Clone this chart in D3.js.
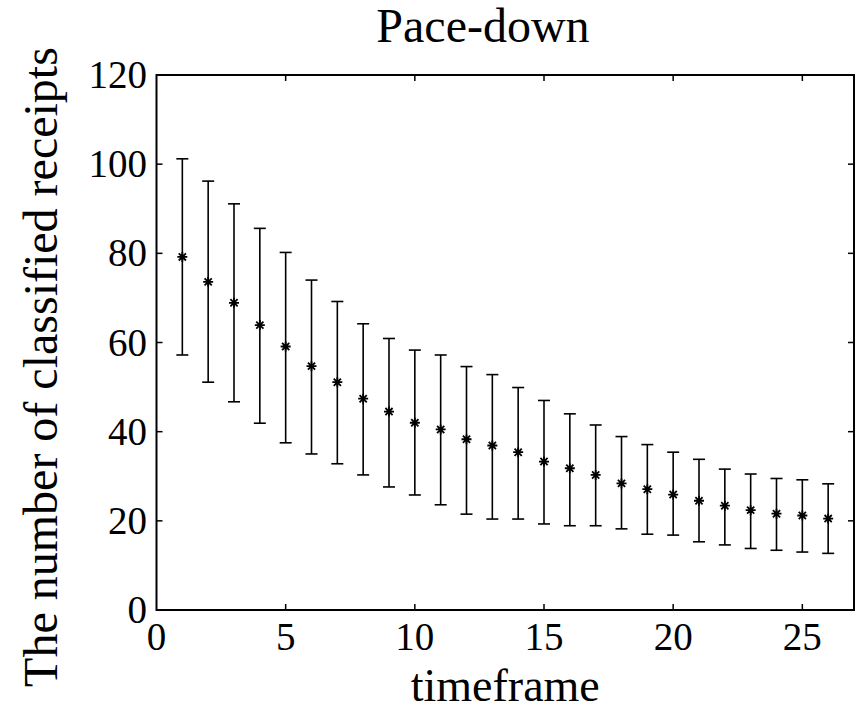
<!DOCTYPE html>
<html><head><meta charset="utf-8">
<script src="https://cdn.jsdelivr.net/npm/d3@7"></script>
<style>html,body{margin:0;padding:0;background:#fff;}svg{display:block;}</style>
</head><body>
<script>
const timeframe = [1,2,3,4,5,6,7,8,9,10,11,12,13,14,15,16,17,18,19,20,21,22,23,24,25,26];
const meanValues = [79.2,73.6,68.9,63.9,59.1,54.7,51.1,47.4,44.5,42.0,40.5,38.3,36.9,35.4,33.3,31.8,30.3,28.4,27.1,25.9,24.5,23.4,22.4,21.6,21.2,20.5];
const upperValues = [101.2,96.2,91.1,85.6,80.2,74.0,69.2,64.2,60.9,58.3,57.2,54.6,52.8,49.9,47.0,44.0,41.5,38.9,37.1,35.4,33.8,31.6,30.5,29.5,29.2,28.3];
const lowerValues = [57.2,51.1,46.7,41.9,37.5,35.0,32.8,30.3,27.6,25.8,23.6,21.5,20.4,20.4,19.3,18.9,18.9,18.2,17.0,16.8,15.3,14.6,13.8,13.4,13.0,12.7];
const xTicks = [0,5,10,15,20,25];
const yTicks = [0,20,40,60,80,100,120];
const titleText = "Pace-down";
const xLabel = "timeframe";
const yLabel = "The number of classified receipts";

const W = 857, H = 711;
const L = 156.5, R = 854, T = 75, B = 610;
const font = "'Liberation Serif','Times New Roman',serif";

const svg = d3.select("body").append("svg").attr("width", W).attr("height", H);
const x = d3.scaleLinear().domain([0,27]).range([L,R]);
const y = d3.scaleLinear().domain([0,120]).range([B,T]);

// error bars
const g = svg.append("g").attr("stroke","#000").attr("stroke-width",1.6).attr("fill","none");
const data = timeframe.map((t,i)=>({t, m:meanValues[i], u:upperValues[i], l:lowerValues[i]}));
const cap = 6;
data.forEach(d=>{
  g.append("line").attr("x1",x(d.t)).attr("x2",x(d.t)).attr("y1",y(d.u)).attr("y2",y(d.l));
  g.append("line").attr("x1",x(d.t)-cap).attr("x2",x(d.t)+cap).attr("y1",y(d.u)).attr("y2",y(d.u));
  g.append("line").attr("x1",x(d.t)-cap).attr("x2",x(d.t)+cap).attr("y1",y(d.l)).attr("y2",y(d.l));
  const cx = x(d.t), cy = y(d.m), s = 5, dd = 3.6;
  g.append("path").attr("stroke-width",1.8)
    .attr("d",`M${cx-s},${cy}H${cx+s}M${cx},${cy-s}V${cy+s}M${cx-dd},${cy-dd}L${cx+dd},${cy+dd}M${cx-dd},${cy+dd}L${cx+dd},${cy-dd}`);
});

// box
svg.append("rect").attr("x",L).attr("y",T).attr("width",R-L).attr("height",B-T)
  .attr("fill","none").attr("stroke","#000").attr("stroke-width",2);

// ticks inward
const tk = svg.append("g").attr("stroke","#000").attr("stroke-width",1.5);
const tl = 6;
xTicks.forEach(v=>{
  if(v===0) return;
  tk.append("line").attr("x1",x(v)).attr("x2",x(v)).attr("y1",B).attr("y2",B-tl);
  tk.append("line").attr("x1",x(v)).attr("x2",x(v)).attr("y1",T).attr("y2",T+tl);
});
yTicks.forEach(v=>{
  if(v===0||v===120) return;
  tk.append("line").attr("x1",L).attr("x2",L+tl).attr("y1",y(v)).attr("y2",y(v));
  tk.append("line").attr("x1",R).attr("x2",R-tl).attr("y1",y(v)).attr("y2",y(v));
});

// tick labels
svg.append("g").selectAll("text").data(xTicks).join("text")
  .attr("x",d=>x(d)).attr("y",650).attr("text-anchor","middle")
  .attr("font-family",font).attr("font-size",39).text(d=>d);
svg.append("g").selectAll("text").data(yTicks).join("text")
  .attr("x",147).attr("y",d=>y(d)+13).attr("text-anchor","end")
  .attr("font-family",font).attr("font-size",39).text(d=>d);

// title & labels
svg.append("text").attr("x",483).attr("y",42).attr("text-anchor","middle")
  .attr("font-family",font).attr("font-size",48).text(titleText);
svg.append("text").attr("x",(L+R)/2).attr("y",701).attr("text-anchor","middle")
  .attr("font-family",font).attr("font-size",46).text(xLabel);
svg.append("text").attr("transform","translate(57,367) rotate(-90)").attr("text-anchor","middle")
  .attr("font-family",font).attr("font-size",48).text(yLabel);
</script>
</body></html>
